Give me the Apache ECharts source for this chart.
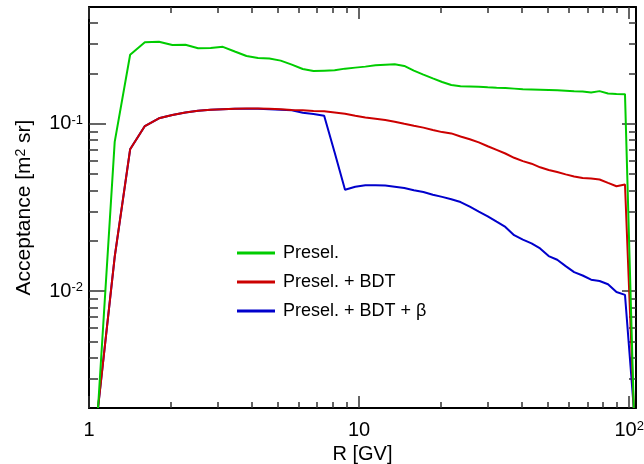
<!DOCTYPE html>
<html>
<head>
<meta charset="utf-8">
<script src="https://cdn.jsdelivr.net/npm/echarts@6/dist/echarts.min.js"></script>
<style>
html,body{margin:0;padding:0;background:#fff;}
#c{width:644px;height:464px;}
</style>
</head>
<body>
<div id="c"></div>
<script>
// Rigidity bin centres [GV]
const R = [1.08, 1.245, 1.42, 1.61, 1.815, 2.035, 2.275, 2.535, 2.82, 3.13, 3.465, 3.83, 4.225, 4.655, 5.125, 5.635, 6.185, 6.78, 7.425, 8.12, 8.87, 9.68, 10.55, 11.5, 12.5, 13.55, 14.7, 15.95, 17.3, 18.75, 20.3, 21.95, 23.75, 25.7, 27.75, 29.95, 32.3, 34.8, 37.5, 40.4, 43.5, 46.8, 50.35, 54.15, 58.2, 62.55, 67.25, 72.3, 77.7, 83.5, 89.75, 96.5, 104];

const presel = [0.002, 0.078, 0.259, 0.308, 0.31, 0.296, 0.297, 0.283, 0.284, 0.289, 0.271, 0.2545, 0.248, 0.246, 0.239, 0.226, 0.213, 0.207, 0.208, 0.209, 0.214, 0.217, 0.22, 0.224, 0.226, 0.227, 0.222, 0.208, 0.197, 0.187, 0.178, 0.171, 0.168, 0.1675, 0.167, 0.1655, 0.1645, 0.164, 0.1625, 0.161, 0.1605, 0.16, 0.1595, 0.159, 0.158, 0.1565, 0.156, 0.154, 0.157, 0.152, 0.151, 0.1506, 0.002];

const preselBDT = [0.002, 0.016, 0.0705, 0.0971, 0.108, 0.113, 0.117, 0.12, 0.1215, 0.1225, 0.123, 0.1235, 0.1235, 0.123, 0.1225, 0.121, 0.1205, 0.1195, 0.119, 0.117, 0.115, 0.112, 0.1093, 0.1074, 0.1055, 0.103, 0.1002, 0.0975, 0.095, 0.092, 0.0893, 0.0877, 0.084, 0.081, 0.0775, 0.0735, 0.0699, 0.0665, 0.0627, 0.0599, 0.0578, 0.055, 0.053, 0.0515, 0.0499, 0.0485, 0.0474, 0.0472, 0.0465, 0.0444, 0.0424, 0.0434, 0.002];

const preselBDTBeta = [0.002, 0.016, 0.0705, 0.0971, 0.108, 0.113, 0.117, 0.12, 0.1215, 0.1225, 0.123, 0.1233, 0.1232, 0.1225, 0.1215, 0.1205, 0.1165, 0.1145, 0.112, 0.0674, 0.0404, 0.0421, 0.0429, 0.0429, 0.0428, 0.0421, 0.0414, 0.0401, 0.0391, 0.0377, 0.0366, 0.0354, 0.0341, 0.032, 0.0299, 0.028, 0.026, 0.0242, 0.0216, 0.0203, 0.0193, 0.018, 0.0162, 0.0154, 0.0141, 0.013, 0.0124, 0.0117, 0.0115, 0.011, 0.00987, 0.0095, 0.002];

const seriesNames = ['Presel.', 'Presel. + BDT', 'Presel. + BDT + \u03B2'];
const seriesColors = ['#00cc00', '#cc0000', '#0000cc'];

const xMajorTicks = [1, 10, 100];
const xTickLabels = ['1', '10', '10^2'];
const xMinorTicks = [2, 3, 4, 5, 6, 7, 8, 9, 20, 30, 40, 50, 60, 70, 80, 90];
const yMajorTicks = [0.01, 0.1];
const yTickLabels = ['10^-2', '10^-1'];
const yMinorTicks = [0.003, 0.004, 0.005, 0.006, 0.007, 0.008, 0.009, 0.02, 0.03, 0.04, 0.05, 0.06, 0.07, 0.08, 0.09, 0.2, 0.3, 0.4];

const X_MIN = 1, X_MAX = 106, Y_MIN = 0.002, Y_MAX = 0.5;
const FONT = 'Liberation Sans';

function toRich(s) {
  const i = s.indexOf('^');
  return i < 0 ? s : s.slice(0, i) + '{sup|' + s.slice(i + 1) + '}';
}
function labelFor(ticks, labels) {
  return function (v) {
    for (let i = 0; i < ticks.length; i++) {
      if (Math.abs(Math.log10(ticks[i]) - Math.log10(v)) < 1e-6) return toRich(labels[i]);
    }
    return '';
  };
}
const supRich = { sup: { fontSize: 13, fontFamily: FONT, color: '#000', verticalAlign: 'top', lineHeight: 13 } };

function xAxisDef(pos, ticks, len, showLine, label) {
  return {
    type: 'log', logBase: 10, min: X_MIN, max: X_MAX, position: pos, gridIndex: 0,
    axisLine: { show: showLine, onZero: false, lineStyle: { color: '#000', width: 2 } },
    axisTick: { show: true, inside: true, length: len, customValues: ticks, lineStyle: { color: '#333', width: 1.5 } },
    minorTick: { show: false },
    splitLine: { show: false },
    axisLabel: label ? {
      show: true, customValues: xMajorTicks, margin: 12, fontSize: 20, fontFamily: FONT, color: '#000',
      formatter: labelFor(xMajorTicks, xTickLabels), rich: supRich
    } : { show: false }
  };
}
function yAxisDef(pos, ticks, len, showLine, label) {
  return {
    type: 'log', logBase: 10, min: Y_MIN, max: Y_MAX, position: pos, gridIndex: 0,
    axisLine: { show: showLine, onZero: false, lineStyle: { color: '#000', width: 2 } },
    axisTick: { show: true, inside: true, length: len, customValues: ticks, lineStyle: { color: '#333', width: 1.5 } },
    minorTick: { show: false },
    splitLine: { show: false },
    axisLabel: label ? {
      show: true, customValues: yMajorTicks, margin: 6, fontSize: 20, fontFamily: FONT, color: '#000',
      formatter: labelFor(yMajorTicks, yTickLabels), rich: supRich
    } : { show: false }
  };
}

const xAxes = [
  xAxisDef('bottom', xMajorTicks, 12, true, true),
  xAxisDef('bottom', xMinorTicks, 6, false, false),
  xAxisDef('top', xMajorTicks, 12, true, false),
  xAxisDef('top', xMinorTicks, 6, false, false)
];
Object.assign(xAxes[0], {
  name: 'R [GV]', nameLocation: 'middle', nameGap: 30,
  nameTextStyle: { fontSize: 20, fontFamily: FONT, color: '#000' }
});
const yAxes = [
  yAxisDef('left', yMajorTicks, 17, true, true),
  yAxisDef('left', yMinorTicks, 9, false, false),
  yAxisDef('right', yMajorTicks, 14, true, false),
  yAxisDef('right', yMinorTicks, 7, false, false)
];
Object.assign(yAxes[0], {
  name: 'Acceptance [m{sup|2} sr]', nameLocation: 'middle', nameGap: 54,
  nameTextStyle: { fontSize: 21, fontFamily: FONT, color: '#000',
    rich: { sup: { fontSize: 14, fontFamily: FONT, color: '#000', verticalAlign: 'top', lineHeight: 14 } } }
});

const dataSets = [presel, preselBDT, preselBDTBeta];
const series = dataSets.map((vals, k) => ({
  name: seriesNames[k], type: 'line', xAxisIndex: 0, yAxisIndex: 0,
  data: R.map((r, i) => [r, vals[i]]),
  showSymbol: false, symbol: 'none', smooth: false, clip: true,
  lineStyle: { color: seriesColors[k], width: 2 },
  itemStyle: { color: seriesColors[k] },
  z: 3 - k + 2
}));

const chart = echarts.init(document.getElementById('c'), null, { renderer: 'canvas' });
chart.setOption({
  animation: false,
  backgroundColor: '#fff',
  grid: { left: 89, right: 8, top: 7, bottom: 56, containLabel: false, outerBoundsMode: 'none' },
  xAxis: xAxes,
  yAxis: yAxes,
  legend: {
    orient: 'vertical', left: 237, top: 244, padding: 0,
    itemWidth: 38, itemHeight: 3, itemGap: 11, icon: 'rect',
    textStyle: { fontSize: 18, fontFamily: FONT, color: '#000', padding: [0, 0, 0, 3] },
    data: seriesNames
  },
  series: series
});
</script>
</body>
</html>
